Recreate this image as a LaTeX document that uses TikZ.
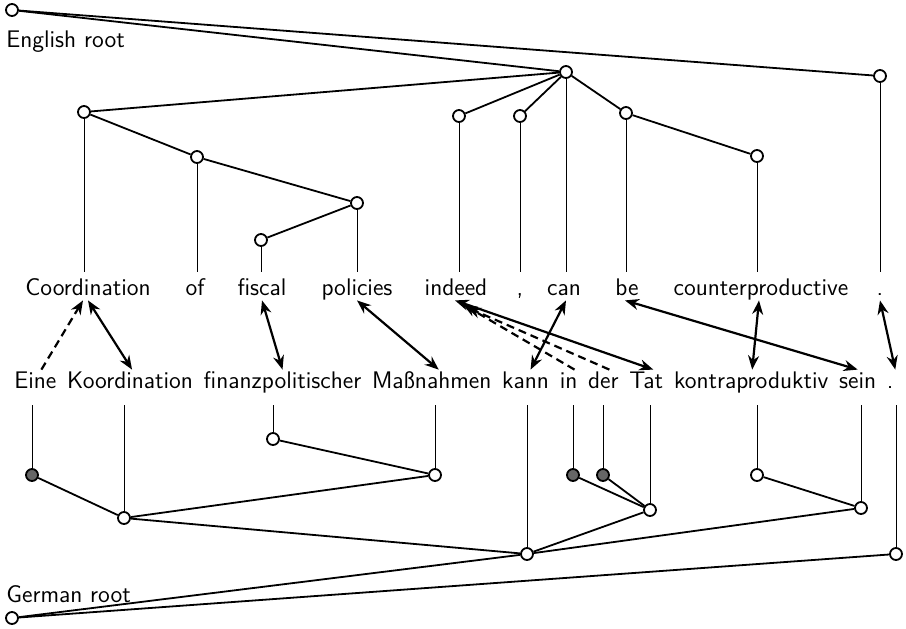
\documentclass[tikz,border=0pt]{standalone}
\usepackage{fontspec}
\usetikzlibrary{arrows.meta,calc}
\begin{document}
\begin{tikzpicture}[x=0.5pt,y=-0.5pt,
  font=\fontsize{12}{14}\selectfont\sffamily,
  tn/.style={circle,draw,line width=0.9pt,fill=white,inner sep=0pt,minimum size=6pt},
  fn/.style={tn,fill=black!60},
  edge/.style={line width=0.9pt},
  vline/.style={line width=0.5pt},
  ew/.style={anchor=base,inner sep=0pt,text height=11.5pt,text depth=2.5pt},
  gw/.style={anchor=base west,inner sep=0pt,text height=9pt,text depth=8.5pt},
  gn/.style={gw,xshift=5pt},
  al/.style={line width=1.1pt,{Stealth[length=7pt,width=5.5pt]}-{Stealth[length=7pt,width=5.5pt]}},
  dl/.style={line width=1.1pt,dash pattern=on 4pt off 2.5pt,-{Stealth[length=7pt,width=5.5pt]}}]
\useasboundingbox (0,0) rectangle (906,628);

% labels
\node[anchor=base west,inner sep=0pt] (elab) at (6,47) {English root};
\node[anchor=base west,inner sep=0pt] (glab) at (6,602) {German root};

% English words
\node[ew] (e1) at (88,295) {Coordination};
\node[ew] (e2) at (195,295) {of};
\node[ew] (e3) at (262,295) {fiscal};
\node[ew] (e4) at (357,295) {policies};
\node[ew] (e5) at (456,295) {indeed};
\node[ew] (e6) at (520,295) {,};
\node[ew] (e7) at (564,295) {can};
\node[ew] (e8) at (627,295) {be};
\node[ew] (e9) at (761,295) {counterproductive};
\node[ew] (e10) at (880,295) {.};

% German words (one sentence)
\node[gw] (g1) at (14,388) {Eine};
\node[gn] (g2) at (g1.base east) {Koordination};
\node[gn] (g3) at (g2.base east) {finanzpolitischer};
\node[gn] (g4) at (g3.base east) {Maßnahmen};
\node[gn] (g5) at (g4.base east) {kann};
\node[gn] (g6) at (g5.base east) {in};
\node[gn] (g7) at (g6.base east) {der};
\node[gn] (g8) at (g7.base east) {Tat};
\node[gn] (g9) at (g8.base east) {kontraproduktiv};
\node[gn] (g10) at (g9.base east) {sein};
\node[gn] (g11) at (g10.base east) {.};

% English tree nodes
\node[tn] (t0) at (12,10) {};
\node[tn] (h) at (566,72) {};
\node[tn] (t1) at (84,112) {};
\node[tn] (t2) at (197,157) {};
\node[tn] (t4) at (357,203) {};
\node[tn] (t3) at (261,240) {};
\node[tn] (t5) at (459,116) {};
\node[tn] (t6) at (520,116) {};
\node[tn] (t8) at (626,113) {};
\node[tn] (t9) at (757,156) {};
\node[tn] (t10) at (880,76) {};

% German tree nodes
\node[tn] (r0) at (12,618) {};
\node[fn] (u1) at (32,475) {};
\node[tn] (u2) at (124,518) {};
\node[tn] (u3) at (273,439) {};
\node[tn] (u4) at (435,475) {};
\node[tn] (u5) at (527,554) {};
\node[fn] (u6) at (573,475) {};
\node[fn] (u7) at (603,475) {};
\node[tn] (u8) at (650,510) {};
\node[tn] (u9) at (757,475) {};
\node[tn] (u10) at (861,508) {};
\node[tn] (u11) at (896,554) {};

% English edges
\draw[edge] (t0) -- (h);
\draw[edge] (t0) -- (t10);
\draw[edge] (h) -- (t1);
\draw[edge] (t1) -- (t2);
\draw[edge] (t2) -- (t4);
\draw[edge] (t4) -- (t3);
\draw[edge] (h) -- (t5);
\draw[edge] (h) -- (t6);
\draw[edge] (h) -- (t8);
\draw[edge] (t8) -- (t9);

% English vertical lines
\draw[vline] (t1) -- (t1 |- e1.north);
\draw[vline] (t2) -- (t2 |- e2.north);
\draw[vline] (t3) -- (t3 |- e3.north);
\draw[vline] (t4) -- (t4 |- e4.north);
\draw[vline] (t5) -- (t5 |- e5.north);
\draw[vline] (t6) -- (t6 |- e6.north);
\draw[vline] (h) -- (h |- e7.north);
\draw[vline] (t8) -- (t8 |- e8.north);
\draw[vline] (t9) -- (t9 |- e9.north);
\draw[vline] (t10) -- (t10 |- e10.north);

% German edges
\draw[edge] (u1) -- (u2);
\draw[edge] (u2) -- (u4);
\draw[edge] (u3) -- (u4);
\draw[edge] (u2) -- (u5);
\draw[edge] (u6) -- (u8);
\draw[edge] (u7) -- (u8);
\draw[edge] (u8) -- (u5);
\draw[edge] (u9) -- (u10);
\draw[edge] (u10) -- (u5);
\draw[edge] (r0) -- (u5);
\draw[edge] (r0) -- (u11);

% German vertical lines
\draw[vline] (u1) -- (u1 |- g1.south);
\draw[vline] (u2) -- (u2 |- g2.south);
\draw[vline] (u3) -- (u3 |- g3.south);
\draw[vline] (u4) -- (u4 |- g4.south);
\draw[vline] (u5) -- (u5 |- g5.south);
\draw[vline] (u6) -- (u6 |- g6.south);
\draw[vline] (u7) -- (u7 |- g7.south);
\draw[vline] (u8) -- (u8 |- g8.south);
\draw[vline] (u9) -- (u9 |- g9.south);
\draw[vline] (u10) -- (u10 |- g10.south);
\draw[vline] (u11) -- (u11 |- g11.south);

% alignment arrows
\draw[al] (e1.south) -- ([xshift=1pt]g2.north);
\draw[dl] ([xshift=3pt]g1.north) -- ([xshift=-2.5pt]e1.south);
\draw[al] (e3.south) -- (g3.north);
\draw[al] (e4.south) -- ([xshift=3.5pt]g4.north);
\draw[al] ([xshift=-0.5pt]e5.south) -- ([xshift=3.5pt]g8.north);
\draw[al] ([xshift=1pt]e7.south) -- ([xshift=2.5pt]g5.north);
\draw[dl] ([xshift=3pt]g6.north) -- ([xshift=3.5pt,yshift=-2pt]e5.south);
\draw[dl] ([xshift=3pt]g7.north) -- ([xshift=5.5pt,yshift=-3.5pt]e5.south);
\draw[al] ([xshift=-1pt]e8.south) -- (g10.north);
\draw[al] ([xshift=-1pt]e9.south) -- ([xshift=0.5pt]g9.north);
\draw[al] (e10.south) -- ([xshift=2.5pt]g11.north);
\end{tikzpicture}
\end{document}
